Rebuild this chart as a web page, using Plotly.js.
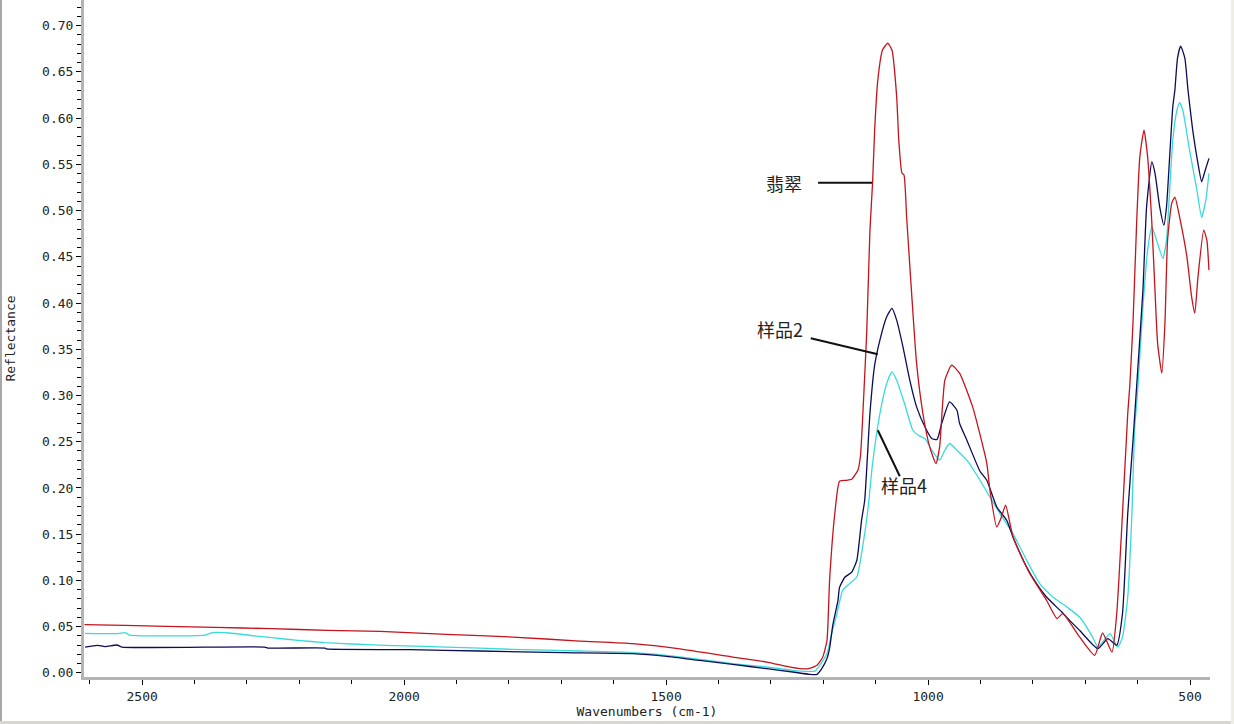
<!DOCTYPE html>
<html>
<head>
<meta charset="utf-8">
<script src="https://cdn.plot.ly/plotly-3.0.1.min.js"></script>
<style>
  html, body { margin: 0; padding: 0; background: #ffffff; }
  #wrap { position: relative; width: 1234px; height: 724px; overflow: hidden; }
  #chart { width: 1234px; height: 724px; }
  #lb { position: absolute; left: 0; top: 0; width: 2px; height: 724px; background: #a8a8a8; }
  #bb { position: absolute; left: 0; top: 721px; width: 1234px; height: 3px; background: #d8d8d0; }
  #rb { position: absolute; left: 1231px; top: 0; width: 3px; height: 724px; background: #eeeee6; }
</style>
</head>
<body>
<div id="wrap"><div id="chart"></div><div id="lb"></div><div id="bb"></div><div id="rb"></div></div>
<script>
// Series names
const seriesNames = ["翡翠", "样品2", "样品4"];

// 翡翠 (red)
const jadeWn = [2610,2533,2453,2361,2253,2146,2046,1919,1793,1665,1564,1474,1373,1308,1270,1245,1226,1212,1201,1193,1188,1178,1169,1155,1146,1134,1129,1123,1117,1111,1106,1102,1096,1087,1077,1069,1060,1056,1050,1046,1041,1031,1022,1010,997,985,978,968,955,940,915,888,882,869,861,852,838,806,774,754,743,711,682,667,649,640,629,619,615,609,602,596,588,581,573,567,562,554,548,543,535,529,520,506,497,491,485,474,468,464];
const jadeR = [0.0522,0.0514,0.0503,0.0492,0.0478,0.0460,0.0449,0.0416,0.0387,0.0344,0.0316,0.0260,0.0171,0.0117,0.0070,0.0045,0.0049,0.0081,0.0171,0.0352,0.1001,0.1726,0.2073,0.2083,0.2094,0.2192,0.2354,0.2982,0.3707,0.4789,0.5298,0.5871,0.6412,0.6737,0.6810,0.6737,0.6232,0.5763,0.5406,0.5384,0.4933,0.4067,0.3350,0.2808,0.2444,0.2264,0.2444,0.3166,0.3328,0.3241,0.2877,0.2267,0.1975,0.1578,0.1672,0.1813,0.1470,0.1074,0.0785,0.0587,0.0641,0.0388,0.0189,0.0431,0.0225,0.0641,0.1723,0.2805,0.3111,0.3782,0.4865,0.5579,0.5871,0.5579,0.4865,0.4140,0.3566,0.3241,0.3782,0.4680,0.5081,0.5146,0.4930,0.4497,0.4064,0.3891,0.4280,0.4789,0.4680,0.4356];

// 样品2 (navy)
const s2Wn = [2609,2585,2571,2548,2539,2266,2260,2151,2148,1989,1856,1697,1564,1499,1436,1373,1308,1258,1226,1212,1203,1193,1188,1182,1172,1169,1159,1146,1136,1127,1121,1111,1102,1092,1079,1069,1060,1048,1035,1022,1006,993,983,974,959,945,940,926,901,888,869,850,838,812,793,774,745,730,711,676,657,640,629,619,609,602,590,583,573,567,558,550,545,539,533,529,524,518,510,504,495,485,478,472,464];
const s2R = [0.0279,0.0298,0.0284,0.0301,0.0279,0.0279,0.0268,0.0268,0.0258,0.0251,0.0236,0.0219,0.0208,0.0179,0.0135,0.0092,0.0045,0.0009,-0.0016,-0.0016,0.0045,0.0154,0.0265,0.0514,0.0785,0.0925,0.1034,0.1088,0.1218,0.1650,0.1867,0.2808,0.3328,0.3599,0.3851,0.3942,0.3815,0.3526,0.3166,0.2877,0.2660,0.2535,0.2524,0.2697,0.2931,0.2841,0.2700,0.2516,0.2181,0.2083,0.1794,0.1650,0.1470,0.1145,0.0965,0.0820,0.0658,0.0568,0.0460,0.0262,0.0370,0.0298,0.0641,0.1723,0.2510,0.3100,0.4140,0.5041,0.5528,0.5406,0.5041,0.4843,0.5041,0.5582,0.6123,0.6304,0.6650,0.6780,0.6650,0.6304,0.5871,0.5511,0.5312,0.5420,0.5565];

// 样品4 (cyan)
const s4Wn = [2609,2546,2533,2524,2380,2365,2333,2291,2253,2203,2151,2100,2037,1919,1793,1665,1564,1499,1436,1373,1308,1258,1230,1216,1207,1193,1184,1174,1163,1150,1136,1125,1115,1106,1092,1079,1069,1060,1045,1029,1016,1006,993,978,968,959,945,926,901,882,863,838,812,787,762,735,711,686,676,653,638,629,619,611,606,600,590,581,573,564,552,545,539,533,525,520,514,501,487,478,470,464];
const s4R = [0.0427,0.0424,0.0435,0.0409,0.0409,0.0435,0.0431,0.0403,0.0381,0.0352,0.0327,0.0312,0.0298,0.0279,0.0254,0.0236,0.0219,0.0189,0.0146,0.0100,0.0063,0.0027,0.0016,0.0019,0.0081,0.0208,0.0424,0.0641,0.0893,0.0965,0.1037,0.1361,0.1759,0.2264,0.2805,0.3130,0.3255,0.3166,0.2913,0.2624,0.2560,0.2535,0.2408,0.2300,0.2408,0.2481,0.2408,0.2300,0.2083,0.1903,0.1723,0.1506,0.1218,0.0965,0.0820,0.0712,0.0604,0.0387,0.0279,0.0424,0.0279,0.0387,0.0820,0.1723,0.2624,0.3057,0.3959,0.4573,0.4825,0.4681,0.4483,0.4681,0.5222,0.5763,0.6088,0.6167,0.6088,0.5655,0.5222,0.4926,0.5114,0.5403];

const lineShape = {shape: 'spline', smoothing: 0.5};
const traces = [
  {x: s4Wn, y: s4R, name: seriesNames[2], type: 'scatter', mode: 'lines', line: Object.assign({color: '#3adada', width: 1.3}, lineShape)},
  {x: s2Wn, y: s2R, name: seriesNames[1], type: 'scatter', mode: 'lines', line: Object.assign({color: '#0c0c58', width: 1.3}, lineShape)},
  {x: jadeWn, y: jadeR, name: seriesNames[0], type: 'scatter', mode: 'lines', line: Object.assign({color: '#c4141c', width: 1.3}, lineShape)}
];

const monoFont = {family: 'DejaVu Sans Mono, monospace', size: 13, color: '#222'};
const cjkFont = {family: 'Noto Sans CJK SC, sans-serif', size: 18, color: '#222'};

const layout = {
  width: 1234, height: 724,
  margin: {l: 84, r: 24, t: 0, b: 47, pad: 0},
  paper_bgcolor: '#ffffff', plot_bgcolor: '#ffffff',
  showlegend: false,
  xaxis: {
    range: [2611, 462], autorange: false,
    tickmode: 'linear', tick0: 500, dtick: 500,
    ticks: 'outside', ticklen: 5, tickwidth: 1, tickcolor: '#000',
    showline: true, linecolor: '#b4b4b4', linewidth: 3,
    showgrid: false, zeroline: false,
    tickfont: monoFont,
    minor: {dtick: 100, tick0: 500, ticks: 'outside', ticklen: 4, tickwidth: 1, tickcolor: '#000', showgrid: false},
    title: {text: 'Wavenumbers (cm-1)', font: monoFont, standoff: 5}
  },
  yaxis: {
    range: [-0.0045, 0.7278], autorange: false,
    tickmode: 'linear', tick0: 0, dtick: 0.05, tickformat: '.2f',
    ticks: 'outside', ticklen: 5, tickwidth: 1, tickcolor: '#000',
    showline: true, linecolor: '#b4b4b4', linewidth: 3,
    showgrid: false, zeroline: false,
    tickfont: monoFont,
    minor: {dtick: 0.01, tick0: 0, ticks: 'outside', ticklen: 4, tickwidth: 1, tickcolor: '#000', showgrid: false},
    title: {text: 'Reflectance', font: monoFont, standoff: 24}
  },
  annotations: [
    {x: 1275, y: 0.530, xref: 'x', yref: 'y', text: seriesNames[0], showarrow: false, font: cjkFont},
    {x: 1283, y: 0.372, xref: 'x', yref: 'y', text: seriesNames[1], showarrow: false, font: cjkFont},
    {x: 1046, y: 0.203, xref: 'x', yref: 'y', text: seriesNames[2], showarrow: false, font: cjkFont}
  ],
  shapes: [
    {type: 'line', xref: 'x', yref: 'y', x0: 1210, y0: 0.530, x1: 1107, y1: 0.530, line: {color: '#111', width: 2}},
    {type: 'line', xref: 'x', yref: 'y', x0: 1224, y0: 0.362, x1: 1096, y1: 0.3447, line: {color: '#111', width: 2}},
    {type: 'line', xref: 'x', yref: 'y', x0: 1096, y0: 0.2624, x1: 1054, y1: 0.2127, line: {color: '#111', width: 2}}
  ]
};

Plotly.newPlot('chart', traces, layout, {displayModeBar: false, staticPlot: true});
</script>
</body>
</html>
